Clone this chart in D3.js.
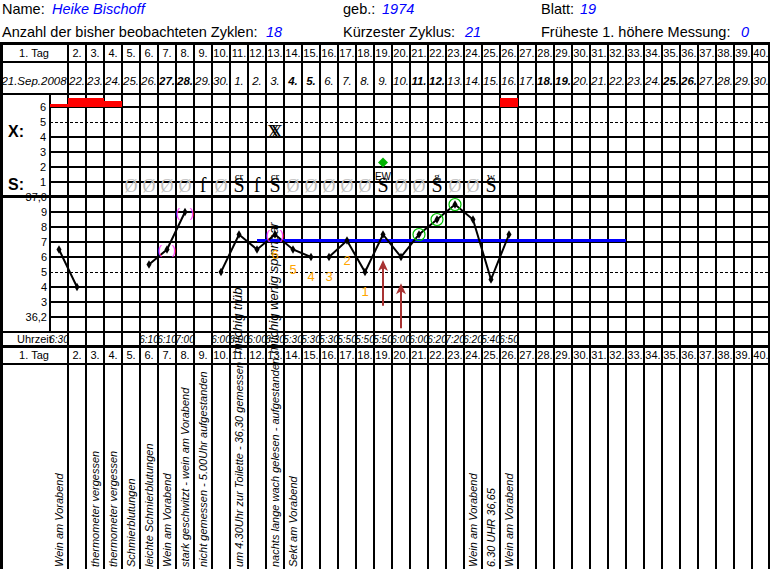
<!DOCTYPE html>
<html><head><meta charset="utf-8">
<script src="https://cdn.jsdelivr.net/npm/d3@7/dist/d3.min.js"></script>
<style>body{margin:0;background:#fff}svg{display:block}</style>
</head><body><svg id="c" width="770" height="569"></svg>
<script>
// ---------------- DATA ----------------
const headerLabels1 = ["Name:", "geb.:", "Blatt:"];
const headerValues1 = ["Heike Bischoff", "1974", "19"];
const headerLabels2 = ["Anzahl der bisher beobachteten Zyklen:", "Kürzester Zyklus:", "Früheste 1. höhere Messung:"];
const headerValues2 = ["18", "21", "0"];

const days = d3.range(1, 41);
const dayLabels = days.map(d => d === 1 ? "1. Tag" : d + ".");
const dateLabels = ["21.Sep.2008","22.","23.","24.","25.","26.","27.","28.","29.","30.",
  "1.","2.","3.","4.","5.","6.","7.","8.","9.","10.","11.","12.","13.","14.","15.","16.",
  "17.","18.","19.","20.","21.","22.","23.","24.","25.","26.","27.","28.","29.","30."];
const boldDateDays = [7, 8, 14, 15, 21, 22, 28, 29, 35, 36];

const bleedDays = [1, 2, 3, 4, 26];
const bleedValues = [1, 3, 3, 2, 3];

const xsTicks = [1, 2, 3, 4, 5, 6];
const tempTicks = [36.2, 36.3, 36.4, 36.5, 36.6, 36.7, 36.8, 36.9, 37.0];
const tempTickLabels = ["36,2", "3", "4", "5", "6", "7", "8", "9", "37,0"];

// temperature per cycle day (null = not measured)
const temps = [36.65, 36.40, null, null, null, 36.55, 36.65, 36.90, null, 36.50,
  36.75, 36.65, 36.75, 36.65, 36.60, 36.60, 36.71, 36.50, 36.75, 36.60,
  36.75, 36.85, 36.95, 36.85, 36.45, 36.75];
const excludedDays = [7, 8, 13];
const circledDays = [21, 22, 23];
const countDays = [13, 14, 15, 16, 17, 18];
const countLabels = ["6", "5", "4", "3", "2", "1"];
const coverLineValue = 36.71;
const coverStartDay = 12, coverEndDay = 32;
const arrowDays = [19, 20];
const arrowFrom = [36.275, 36.125];
const arrowTo = [36.58, 36.425];

const mucusDays = [5,6,7,8,9,10,11,12,13,14,15,16,17,18,19,20,21,22,23,24,25];
const mucusSymbols = ["Ø","Ø","Ø","Ø","f","Ø","S","f","S","Ø","Ø","Ø","Ø","Ø","S","Ø","Ø","S","Ø","Ø","S"];
const mucusSup = ["","","","","","","cr","","cr","","","","","","EW","","","g","","","w"];

const cervixDays = [13];
const cervixValues = [4.4];
const painDays = [19];
const painValues = [2.3];

const timeDays = [1,6,7,8,10,11,12,13,14,15,16,17,18,19,20,21,22,23,24,25,26];
const timeLabels = ["6:30","6:10","6:10","7:00","6:00","6:00","6:00","6:30","5:30","5:30","5:30",
  "5:50","5:50","5:50","6:00","6:00","6:20","7:20","6:20","5:40","6:50"];

const upperNoteDays = [11, 13];
const upperNotes = ["milchig trüb", "milchig wenig spinnbar"];

const remarkDays = [1, 3, 4, 5, 6, 7, 8, 9, 11, 13, 14, 24, 25, 26];
const remarkTexts = ["Wein am Vorabend", "thermometer vergessen", "thermometer vergessen",
  "Schmierblutungen", "leichte Schmierblutungen", "Wein am Vorabend",
  "stark geschwitzt - wein am Vorabend", "nicht gemessen - 5.00Uhr aufgestanden",
  "um 4.30Uhr zur Toilette - 36,30 gemessen", "nachts lange wach gelesen - aufgestanden",
  "Sekt am Vorabend", "Wein am Vorabend", "6.30 UHR 36,65", "Wein am Vorabend"];

// ---------------- DRAW ----------------
const sans = "'Liberation Sans', Arial, sans-serif";
const serif = "'Liberation Serif', 'Times New Roman', serif";
const svg = d3.select("#c");
svg.append("rect").attr("width", 770).attr("height", 569).attr("fill", "#fff");

const x = d3.scaleBand().domain(days).range([50, 770]);
const cx = d => x(d) + x.bandwidth() / 2;
const yT = d3.scaleLinear().domain([36.1, 37.0]).range([332, 197]);
const yS = d3.scaleLinear().domain([0, 7]).range([197, 92]);
const yB = d3.scaleLinear().domain([0, 3]).range([107, 98]);
const dayCenterFirst = 34; // "1. Tag" spans the label column + day 1

// header
const h = svg.append("g").attr("font-family", sans).attr("font-size", 14.5);
const hx1 = [2, 343, 541], hv1 = [52, 382, 580];
const hv2 = [266, 465, 741];
headerLabels1.forEach((t, i) => {
  h.append("text").attr("x", hx1[i]).attr("y", 14).text(t);
  h.append("text").attr("x", hv1[i]).attr("y", 14).attr("fill", "#0000ff").attr("font-style", "italic").text(headerValues1[i]);
  h.append("text").attr("x", hx1[i]).attr("y", 36.5).text(headerLabels2[i]);
  h.append("text").attr("x", hv2[i]).attr("y", 36.5).attr("fill", "#0000ff").attr("font-style", "italic").text(headerValues2[i]);
});

// grid
const grid = svg.append("g").attr("stroke", "#000").attr("shape-rendering", "crispEdges");
xsTicks.forEach(v => {
  grid.append("line").attr("x1", 50).attr("x2", 770).attr("y1", yS(v)).attr("y2", yS(v))
    .attr("stroke-width", v === 5 ? 1 : 2).attr("stroke-dasharray", v === 5 ? "3,2" : null);
});
tempTicks.slice(0, -1).forEach(v => {
  const dashed = Math.abs(v - 36.5) < 1e-6;
  grid.append("line").attr("x1", 50).attr("x2", 770).attr("y1", yT(v)).attr("y2", yT(v))
    .attr("stroke-width", dashed ? 1 : 2).attr("stroke-dasharray", dashed ? "3,2" : null);
});
[[62, 2], [94, 2], [yT(36.1), 2], [364, 2]].forEach(([y, w]) => {
  grid.append("line").attr("x1", 0).attr("x2", 770).attr("y1", y).attr("y2", y).attr("stroke-width", w);
});
[[43.5, 3], [yT(37.0) - 0.5, 3], [346.5, 3]].forEach(([y, w]) => {
  grid.append("line").attr("x1", 0).attr("x2", 770).attr("y1", y).attr("y2", y).attr("stroke-width", w);
});
days.slice(1).forEach(d => {
  grid.append("line").attr("x1", x(d)).attr("x2", x(d)).attr("y1", 43).attr("y2", 569).attr("stroke-width", 2);
});
grid.append("line").attr("x1", x(1)).attr("x2", x(1)).attr("y1", 94).attr("y2", yT(36.1)).attr("stroke-width", 2);
grid.append("line").attr("x1", 769).attr("x2", 769).attr("y1", 42).attr("y2", 569).attr("stroke-width", 2);
grid.append("line").attr("x1", 1.5).attr("x2", 1.5).attr("y1", 42).attr("y2", 569).attr("stroke-width", 3);

// day header rows (top & bottom)
const dh = svg.append("g").attr("font-family", sans).attr("font-size", 11).attr("text-anchor", "middle");
[57, 359].forEach(by => {
  days.forEach((d, i) => {
    dh.append("text").attr("x", d === 1 ? dayCenterFirst : cx(d)).attr("y", by).text(dayLabels[i]);
  });
});
// dates
const dr = svg.append("g").attr("font-family", sans).attr("font-size", 11.5).attr("font-style", "italic").attr("text-anchor", "middle");
days.forEach((d, i) => {
  dr.append("text").attr("x", d === 1 ? dayCenterFirst : cx(d)).attr("y", 84.5)
    .attr("font-weight", boldDateDays.includes(d) ? "bold" : null).text(dateLabels[i]);
});

// bleeding bars
svg.append("g").selectAll("rect").data(bleedDays).join("rect")
  .attr("x", d => x(d)).attr("width", x.bandwidth())
  .attr("y", (d, i) => yB(bleedValues[i])).attr("height", (d, i) => yB(0) - yB(bleedValues[i]))
  .attr("fill", "#ff0000");

// axis labels
const ax = svg.append("g").attr("font-family", sans).attr("font-size", 11).attr("text-anchor", "end");
xsTicks.forEach(v => ax.append("text").attr("x", 46).attr("y", yS(v) + 4).text(v));
tempTicks.forEach((v, i) => ax.append("text").attr("x", 47).attr("y", yT(v) + 4).text(tempTickLabels[i]));
svg.append("text").attr("x", 8).attr("y", 137).attr("font-family", sans).attr("font-size", 16).attr("font-weight", "bold").text("X:");
svg.append("text").attr("x", 8).attr("y", 190).attr("font-family", sans).attr("font-size", 16).attr("font-weight", "bold").text("S:");
svg.append("text").attr("x", 17).attr("y", 343).attr("font-family", sans).attr("font-size", 11).text("Uhrzeit");

// times
svg.append("g").attr("font-family", sans).attr("font-size", 10).attr("font-style", "italic").attr("text-anchor", "middle")
  .selectAll("text").data(timeDays).join("text")
  .attr("x", d => cx(d)).attr("y", 343).text((d, i) => timeLabels[i]);

// mucus symbols
const mg = svg.append("g").attr("font-family", serif).attr("text-anchor", "middle");
mucusDays.forEach((d, i) => {
  const s = mucusSymbols[i];
  mg.append("text").attr("x", cx(d)).attr("y", 191.5).attr("font-size", s === "Ø" ? 18 : 20)
    .attr("fill", s === "Ø" ? "#bdbdbd" : "#000").text(s);
  if (mucusSup[i]) mg.append("text").attr("x", cx(d)).attr("y", 180)
    .attr("font-family", mucusSup[i] === "EW" ? sans : serif)
    .attr("font-size", mucusSup[i] === "EW" ? 10 : 11).text(mucusSup[i]);
});

// cervix X (doubled)
cervixDays.forEach((d, i) => {
  [-1.5, 1.5].forEach(off => svg.append("text").attr("x", cx(d) + off).attr("y", yS(cervixValues[i]) + 6.5)
    .attr("font-family", serif).attr("font-size", 18).attr("text-anchor", "middle").text("X"));
});
// green diamond
svg.append("g").selectAll("path").data(painDays).join("path")
  .attr("d", d3.symbol(d3.symbolSquare, 50))
  .attr("transform", (d, i) => `translate(${cx(d)},${yS(painValues[i])}) rotate(45)`)
  .attr("fill", "#00b400");

// upper rotated notes
upperNoteDays.forEach((d, i) => {
  svg.append("text").attr("transform", `translate(${x(d) + 11.5},354) rotate(-90)`)
    .attr("font-family", sans).attr("font-size", 13).attr("font-style", "italic").text(upperNotes[i]);
});

// cover line
svg.append("line").attr("x1", cx(coverStartDay)).attr("x2", x(coverEndDay) + x.bandwidth())
  .attr("y1", yT(coverLineValue)).attr("y2", yT(coverLineValue)).attr("stroke", "#0000ff").attr("stroke-width", 3);

// temperature curve
const tData = temps.map((t, i) => ({ day: i + 1, t }));
svg.append("path").datum(tData)
  .attr("d", d3.line().defined(d => d.t !== null).x(d => cx(d.day)).y(d => yT(d.t)))
  .attr("fill", "none").attr("stroke", "#000").attr("stroke-width", 2);
svg.append("g").selectAll("path").data(tData.filter(d => d.t !== null)).join("path")
  .attr("d", d3.symbol(d3.symbolDiamond, 22))
  .attr("transform", d => `translate(${cx(d.day)},${yT(d.t)})`).attr("fill", "#000");

// excluded parentheses
const tOf = d => temps[d - 1];
const pg = svg.append("g").attr("font-family", sans).attr("font-size", 13).attr("fill", "#ff33ff").attr("text-anchor", "middle");
excludedDays.forEach(d => {
  pg.append("text").attr("x", cx(d) - 7).attr("y", yT(tOf(d)) + 4.5).text("(");
  pg.append("text").attr("x", cx(d) + 7).attr("y", yT(tOf(d)) + 4.5).text(")");
});
// green circles
svg.append("g").selectAll("circle").data(circledDays).join("circle")
  .attr("cx", d => cx(d)).attr("cy", d => yT(tOf(d))).attr("r", 6)
  .attr("fill", "none").attr("stroke", "#00c000").attr("stroke-width", 1.2);
// count labels
svg.append("g").attr("font-family", sans).attr("font-size", 13).attr("fill", "#ffa500").attr("text-anchor", "middle")
  .selectAll("text").data(countDays).join("text")
  .attr("x", d => cx(d)).attr("y", d => yT(tOf(d)) + 24).text((d, i) => countLabels[i]);
// arrows
const ar = svg.append("g").attr("fill", "#a83232").attr("stroke", "#a83232");
arrowDays.forEach((d, i) => {
  const top = yT(arrowTo[i]);
  ar.append("line").attr("x1", cx(d)).attr("x2", cx(d)).attr("y1", yT(arrowFrom[i])).attr("y2", top + 6).attr("stroke-width", 2);
  ar.append("path").attr("stroke", "none")
    .attr("d", `M${cx(d)},${top} L${cx(d) - 5},${top + 11} L${cx(d)},${top + 8} L${cx(d) + 5},${top + 11} Z`);
});

// bottom remarks
remarkDays.forEach((d, i) => {
  svg.append("text").attr("transform", `translate(${x(d) + 12.5},567) rotate(-90)`)
    .attr("font-family", sans).attr("font-size", 11).attr("font-style", "italic").text(remarkTexts[i]);
});
</script></body></html>
